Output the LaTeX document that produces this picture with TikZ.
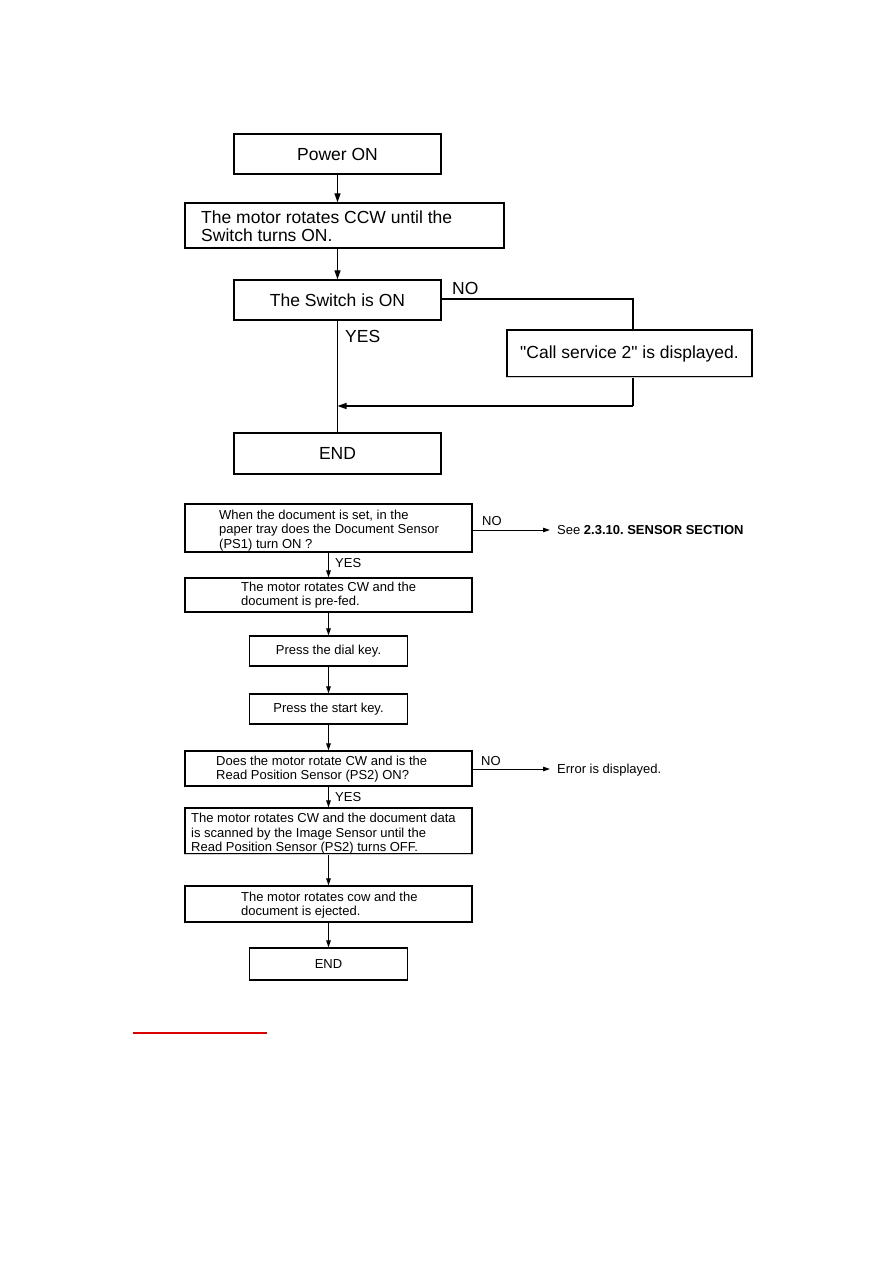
\documentclass[tikz,border=0pt]{standalone}
\usepackage{fontspec}
\setmainfont{Liberation Sans}
\newfontfamily\qfont{Liberation Sans}
\usetikzlibrary{arrows.meta}
\frenchspacing
\begin{document}
\begin{tikzpicture}[x=1pt,y=-1pt,
  bigbox/.style={draw, line width=1.3pt, inner sep=0pt},
  smallbox/.style={draw, line width=1.1pt, inner sep=0pt},
  big/.style={font=\fontsize{17.5}{18}\selectfont},
  small/.style={font=\fontsize{13}{14.5}\selectfont},
  txt/.style={inner sep=0pt, align=left, anchor=west},
  lbl/.style={inner sep=0pt, anchor=west},
  bigarr/.style={line width=1.2pt, -{Triangle[length=9pt,width=6pt]}},
  smallarr/.style={line width=1pt, -{Triangle[length=7pt,width=4.5pt]}},
  bigline/.style={line width=1.2pt},
  fadeedge/.style={line width=1.4pt, draw=gray!35}]
\useasboundingbox (0,0) rectangle (893,1263);

% ---------- upper flowchart ----------
\node[bigbox,big,minimum width=207pt,minimum height=40pt] (pon) at (337.5,154) {Power ON};
\node[bigbox,minimum width=319pt,minimum height=45pt] (ccw) at (344.5,225.5) {};
\node[txt,big] (ccwt) at (201,226) {The motor rotates CCW until the\\Switch turns ON.};
\node[bigbox,big,minimum width=207pt,minimum height=40pt] (sw) at (337.5,300) {The Switch is ON};
\node[bigbox,big,minimum width=245pt,minimum height=47pt] (cs) at (629.5,353.5) {\qfont "Call service 2" is displayed.};
\draw[fadeedge] (cs.south west) -- (cs.south east);
\node[bigbox,big,minimum width=207pt,minimum height=41pt] (end1) at (337.5,453.5) {END};

\draw[bigarr] (pon.south) -- (pon.south |- ccw.north);
\draw[bigarr] (pon.south |- ccw.south) -- (sw.north);
\coordinate (n1) at (633,299);
\coordinate (n2) at (633,406);
\draw[bigline] (sw.east |- n1) -- (n1) -- (n1 |- cs.north);
\draw[bigline] (n2 |- cs.south) -- (n2);
\draw[bigarr] (n2) -- (n2 -| sw.south);
\draw[bigline] (sw.south) -- (end1.north);
\node[lbl,big] (no1) at (452,288) {NO};
\node[lbl,big] (yes1) at (345,336) {YES};

% ---------- lower flowchart ----------
\node[smallbox,minimum width=287pt,minimum height=48pt] (a) at (328.5,528) {};
\node[txt,small] (at) at (219,530.5) {When the document is set, in the\\paper tray does the Document Sensor\\(PS1) turn ON ?};
\node[smallbox,minimum width=287pt,minimum height=34pt] (b) at (328.5,595) {};
\node[txt,small] (bt) at (241,595) {The motor rotates CW and the\\document is pre-fed.};
\node[smallbox,small,minimum width=158pt,minimum height=30pt] (c) at (328.5,651) {Press the dial key.};
\node[smallbox,small,minimum width=158pt,minimum height=30pt] (d) at (328.5,709) {Press the start key.};
\node[smallbox,minimum width=287pt,minimum height=35pt] (e) at (328.5,768.5) {};
\node[txt,small] (et) at (216,769) {Does the motor rotate CW and is the\\Read Position Sensor (PS2) ON?};
\node[smallbox,minimum width=287pt,minimum height=46pt] (f) at (328.5,831) {};
\draw[fadeedge] (f.south west) -- (f.south east);
\node[txt,small] (ft) at (191,834) {The motor rotates CW and the document data\\is scanned by the Image Sensor until the\\Read Position Sensor (PS2) turns OFF.};
\node[smallbox,minimum width=287pt,minimum height=36pt] (g) at (328.5,904) {};
\node[txt,small] (gt) at (241,905) {The motor rotates cow and the\\document is ejected.};
\node[smallbox,small,minimum width=158pt,minimum height=32pt] (h) at (328.5,964) {END};

\draw[smallarr] (a.south) -- (b.north);
\draw[smallarr] (b.south) -- (c.north);
\draw[smallarr] (c.south) -- (d.north);
\draw[smallarr] (d.south) -- (e.north);
\draw[smallarr] (e.south) -- (f.north);
\draw[smallarr] (f.south) -- (g.north);
\draw[smallarr] (g.south) -- (h.north);

\coordinate (see) at (550,530);
\draw[smallarr] (a.east |- see) -- (see);
\node[lbl,small] (seet) at (557,530) {See \textbf{2.3.10. SENSOR SECTION}};
\node[lbl,small] (no2) at (482,521) {NO};
\node[lbl,small] (yes2) at (335,563) {YES};

\coordinate (err) at (550,769);
\draw[smallarr] (e.east |- err) -- (err);
\node[lbl,small] (errt) at (557,770) {Error is displayed.};
\node[lbl,small] (no3) at (481,761) {NO};
\node[lbl,small] (yes3) at (335,797) {YES};

% red underline
\coordinate (r1) at (133,1033);
\coordinate (r2) at (267,1033);
\draw[line width=1.2pt, red!85!black] (r1) -- (r2);
\end{tikzpicture}
\end{document}
